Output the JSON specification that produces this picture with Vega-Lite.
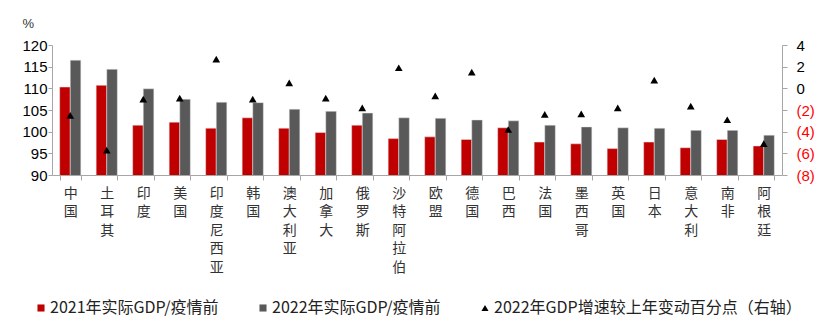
{
  "$schema": "https://vega.github.io/schema/vega-lite/v6.json",
  "width": 730,
  "height": 130,
  "autosize": {"type": "none"},
  "padding": {"left": 52, "top": 45, "right": 49, "bottom": 158},
  "background": "white",
  "config": {"view": {"stroke": null}, "font": "Liberation Sans"},
  "datasets": {
    "bars": [
      {"country": "中国", "series": "2021年实际GDP/疫情前", "value": 110.3},
      {"country": "中国", "series": "2022年实际GDP/疫情前", "value": 116.5},
      {"country": "土耳其", "series": "2021年实际GDP/疫情前", "value": 110.7},
      {"country": "土耳其", "series": "2022年实际GDP/疫情前", "value": 114.4},
      {"country": "印度", "series": "2021年实际GDP/疫情前", "value": 101.5},
      {"country": "印度", "series": "2022年实际GDP/疫情前", "value": 109.9},
      {"country": "美国", "series": "2021年实际GDP/疫情前", "value": 102.2},
      {"country": "美国", "series": "2022年实际GDP/疫情前", "value": 107.5},
      {"country": "印度尼西亚", "series": "2021年实际GDP/疫情前", "value": 100.8},
      {"country": "印度尼西亚", "series": "2022年实际GDP/疫情前", "value": 106.8},
      {"country": "韩国", "series": "2021年实际GDP/疫情前", "value": 103.2},
      {"country": "韩国", "series": "2022年实际GDP/疫情前", "value": 106.7},
      {"country": "澳大利亚", "series": "2021年实际GDP/疫情前", "value": 100.8},
      {"country": "澳大利亚", "series": "2022年实际GDP/疫情前", "value": 105.2},
      {"country": "加拿大", "series": "2021年实际GDP/疫情前", "value": 99.8},
      {"country": "加拿大", "series": "2022年实际GDP/疫情前", "value": 104.7},
      {"country": "俄罗斯", "series": "2021年实际GDP/疫情前", "value": 101.5},
      {"country": "俄罗斯", "series": "2022年实际GDP/疫情前", "value": 104.3},
      {"country": "沙特阿拉伯", "series": "2021年实际GDP/疫情前", "value": 98.4},
      {"country": "沙特阿拉伯", "series": "2022年实际GDP/疫情前", "value": 103.2},
      {"country": "欧盟", "series": "2021年实际GDP/疫情前", "value": 98.8},
      {"country": "欧盟", "series": "2022年实际GDP/疫情前", "value": 103.1},
      {"country": "德国", "series": "2021年实际GDP/疫情前", "value": 98.2},
      {"country": "德国", "series": "2022年实际GDP/疫情前", "value": 102.7},
      {"country": "巴西", "series": "2021年实际GDP/疫情前", "value": 100.9},
      {"country": "巴西", "series": "2022年实际GDP/疫情前", "value": 102.5},
      {"country": "法国", "series": "2021年实际GDP/疫情前", "value": 97.6},
      {"country": "法国", "series": "2022年实际GDP/疫情前", "value": 101.5},
      {"country": "墨西哥", "series": "2021年实际GDP/疫情前", "value": 97.2},
      {"country": "墨西哥", "series": "2022年实际GDP/疫情前", "value": 101.1},
      {"country": "英国", "series": "2021年实际GDP/疫情前", "value": 96.1},
      {"country": "英国", "series": "2022年实际GDP/疫情前", "value": 100.9},
      {"country": "日本", "series": "2021年实际GDP/疫情前", "value": 97.6},
      {"country": "日本", "series": "2022年实际GDP/疫情前", "value": 100.8},
      {"country": "意大利", "series": "2021年实际GDP/疫情前", "value": 96.3},
      {"country": "意大利", "series": "2022年实际GDP/疫情前", "value": 100.3},
      {"country": "南非", "series": "2021年实际GDP/疫情前", "value": 98.2},
      {"country": "南非", "series": "2022年实际GDP/疫情前", "value": 100.3},
      {"country": "阿根廷", "series": "2021年实际GDP/疫情前", "value": 96.7},
      {"country": "阿根廷", "series": "2022年实际GDP/疫情前", "value": 99.2}
    ],
    "pts": [
      {"country": "中国", "change": -2.5},
      {"country": "土耳其", "change": -5.7},
      {"country": "印度", "change": -1.0},
      {"country": "美国", "change": -0.9},
      {"country": "印度尼西亚", "change": 2.7},
      {"country": "韩国", "change": -1.0},
      {"country": "澳大利亚", "change": 0.5},
      {"country": "加拿大", "change": -0.9},
      {"country": "俄罗斯", "change": -1.8},
      {"country": "沙特阿拉伯", "change": 1.9},
      {"country": "欧盟", "change": -0.7},
      {"country": "德国", "change": 1.5},
      {"country": "巴西", "change": -3.8},
      {"country": "法国", "change": -2.4},
      {"country": "墨西哥", "change": -2.35},
      {"country": "英国", "change": -1.8},
      {"country": "日本", "change": 0.75},
      {"country": "意大利", "change": -1.65},
      {"country": "南非", "change": -2.9},
      {"country": "阿根廷", "change": -5.1}
    ]
  },
  "layer": [
    {
      "data": {"name": "bars"},
      "mark": {"type": "bar", "stroke": "#e6e6e6", "strokeWidth": 0.5, "clip": true},
      "encoding": {
        "x": {
          "field": "country", "type": "nominal",
          "scale": {"domain": ["中国","土耳其","印度","美国","印度尼西亚","韩国","澳大利亚","加拿大","俄罗斯","沙特阿拉伯","欧盟","德国","巴西","法国","墨西哥","英国","日本","意大利","南非","阿根廷"], "paddingInner": 0.42, "paddingOuter": 0.21},
          "axis": {
            "title": null, "labelAngle": 0, "labelExpr": "split(datum.label, '')",
            "labelLineHeight": 18.5, "labelBaseline": "top", "labelPadding": 6,
            "labelFontSize": 14, "labelFont": "Noto Sans CJK SC", "labelColor": "#333333",
            "labelOverlap": false, "tickBand": "extent", "tickSize": 5,
            "domainColor": "#A6A6A6", "tickColor": "#A6A6A6"
          }
        },
        "xOffset": {"field": "series", "type": "nominal", "scale": {"domain": ["2021年实际GDP/疫情前", "2022年实际GDP/疫情前"], "paddingInner": 0}},
        "y": {
          "field": "value", "type": "quantitative",
          "scale": {"domain": [90, 120], "zero": false, "nice": false},
          "axis": {
            "values": [90, 95, 100, 105, 110, 115, 120], "grid": false,
            "title": "%", "titleAngle": 0, "titleX": -30, "titleY": -22, "titleAlign": "left",
            "titleBaseline": "middle", "titleFontSize": 13, "titleFontWeight": "normal", "titleColor": "#333333",
            "labelFontSize": 15, "labelColor": "#000000", "labelPadding": 1, "tickSize": 4,
            "domainColor": "#A6A6A6", "tickColor": "#A6A6A6"
          }
        },
        "color": {
          "field": "series", "type": "nominal",
          "scale": {"domain": ["2021年实际GDP/疫情前", "2022年实际GDP/疫情前", "2022年GDP增速较上年变动百分点（右轴）"], "range": ["#C00000", "#595959", "#000000"]},
          "legend": {
            "title": null, "orient": "none", "legendX": -19, "legendY": 255,
            "direction": "horizontal", "columns": 3, "columnPadding": 36, "gridAlign": "none",
            "padding": 0, "labelFont": "Noto Sans CJK SC", "labelFontSize": 16, "labelColor": "#222222",
            "symbolSize": 50, "labelOffset": 1, "labelLimit": 400, "symbolStrokeWidth": 0
          }
        }
      }
    },
    {
      "data": {"name": "pts"},
      "mark": {"type": "point", "filled": true, "size": 60, "opacity": 1},
      "encoding": {
        "x": {"field": "country", "type": "nominal"},
        "y": {
          "field": "change", "type": "quantitative",
          "scale": {"domain": [-8, 4], "nice": false, "zero": false},
          "axis": {
            "orient": "right", "values": [-8, -6, -4, -2, 0, 2, 4], "grid": false, "title": null,
            "labelExpr": "datum.value < 0 ? '(' + abs(datum.value) + ')' : datum.value",
            "labelColor": {"condition": {"test": "datum.value < 0", "value": "#FF0000"}, "value": "#000000"},
            "labelFontSize": 15, "labelPadding": 9, "tickSize": 5,
            "domainColor": "#A6A6A6", "tickColor": "#A6A6A6"
          }
        },
        "color": {"datum": "2022年GDP增速较上年变动百分点（右轴）"},
        "shape": {
          "datum": "2022年GDP增速较上年变动百分点（右轴）",
          "scale": {"domain": ["2021年实际GDP/疫情前", "2022年实际GDP/疫情前", "2022年GDP增速较上年变动百分点（右轴）"], "range": ["square", "square", "triangle-up"]},
          "legend": {
            "title": null, "orient": "none", "legendX": -19, "legendY": 255,
            "direction": "horizontal", "columns": 3, "columnPadding": 36, "gridAlign": "none",
            "padding": 0, "labelFont": "Noto Sans CJK SC", "labelFontSize": 16, "labelColor": "#222222",
            "symbolSize": 50, "labelOffset": 1, "labelLimit": 400, "symbolStrokeWidth": 0
          }
        }
      }
    }
  ],
  "resolve": {"scale": {"y": "independent"}}
}
